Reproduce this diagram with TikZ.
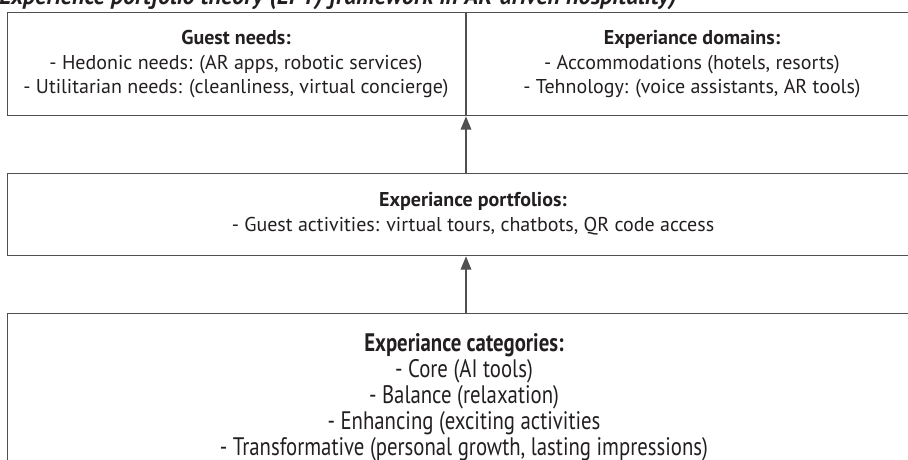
\documentclass[tikz,border=0pt]{standalone}
\usepackage{fontspec}
\setmainfont{PT Sans}
\newfontfamily\narrowfont[FakeStretch=0.82]{PT Sans}
\usetikzlibrary{arrows.meta}

\definecolor{inkgray}{HTML}{231F20}
\definecolor{framegray}{HTML}{505050}

\begin{document}
\begin{tikzpicture}[x=0.75pt, y=-0.75pt, inkgray,
  panel/.style={draw=framegray, line width=1pt, inner sep=0pt, anchor=north west},
  txt/.style={align=center, inner sep=0pt, font=\fontsize{15}{18.5}\selectfont},
  narrowtxt/.style={align=center, inner sep=0pt, font=\narrowfont\fontsize{19}{19.5}\selectfont},
  uparrow/.style={draw=framegray, line width=1pt, -{Triangle[length=10pt, width=8pt]}}]
  \useasboundingbox (0,0) rectangle (908,460);
  % title, cut at the top
  \node[anchor=base west, inner sep=0pt, font=\fontsize{18}{20}\selectfont\bfseries\itshape]
    (title) at (-1,5) {Experience portfolio theory (EPT) framework in AR-driven hospitality)};
  % three boxes, running off the right and bottom edges
  \node[panel, minimum width=914*0.75pt, minimum height=103*0.75pt] (top) at (7,12) {};
  \node[panel, minimum width=914*0.75pt, minimum height=82*0.75pt] (port) at (7,173) {};
  \node[panel, minimum width=914*0.75pt, minimum height=160*0.75pt] (cat) at (7,313) {};
  \coordinate (split) at (466,0);
  \draw[draw=framegray, line width=1pt] (top.north -| split) -- (top.south -| split);
  % box texts
  \node[txt, anchor=north] (needs) at (236,30)
    {\textbf{Guest needs:}\\- Hedonic needs: (AR apps, robotic services)\\- Utilitarian needs: (cleanliness, virtual concierge)};
  \node[txt, anchor=north] (domains) at (692,30)
    {\textbf{Experiance domains:}\\- Accommodations (hotels, resorts)\\- Tehnology: (voice assistants, AR tools)};
  \node[txt, anchor=north] (folios) at (473,192)
    {\textbf{Experiance portfolios:}\\- Guest activities: virtual tours, chatbots, QR code access};
  \node[narrowtxt, anchor=north] (cats) at (464,333)
    {\textbf{Experiance categories:}\\- Core (AI tools)\\- Balance (relaxation)\\- Enhancing (exciting activities\\- Transformative (personal growth, lasting impressions)};
  % arrows upward
  \draw[uparrow] (cat.north -| split) -- (port.south -| split);
  \draw[uparrow] (port.north -| split) -- (top.south -| split);
\end{tikzpicture}
\end{document}
